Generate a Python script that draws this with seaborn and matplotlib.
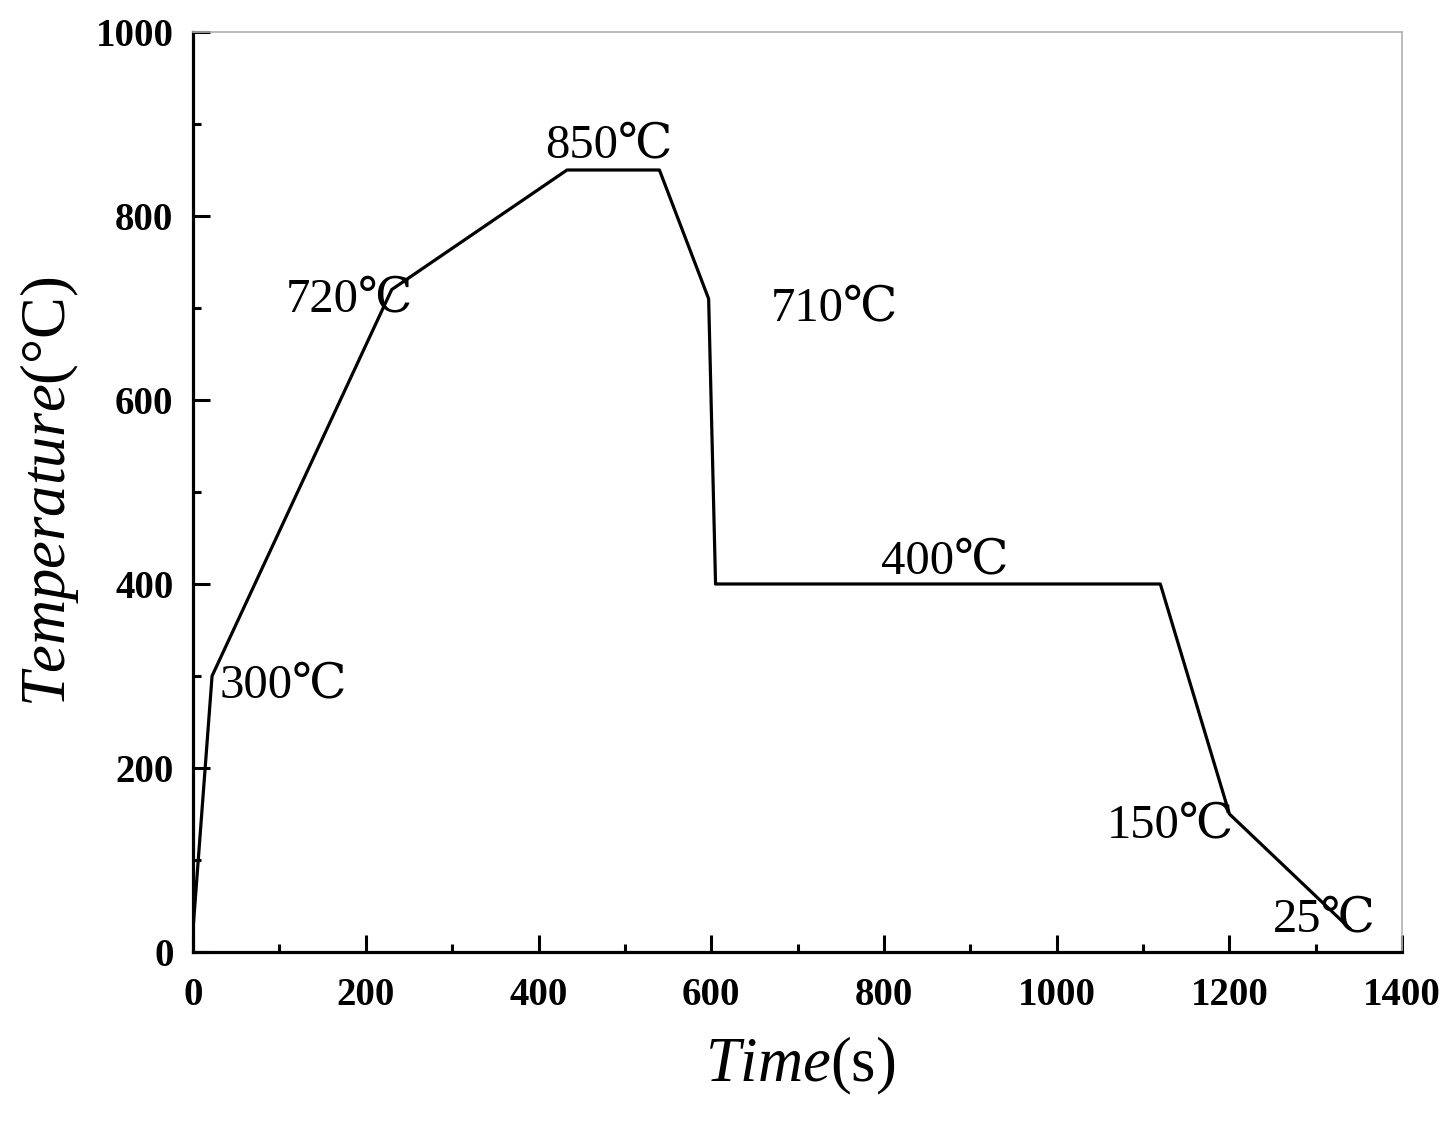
#heat_treatment_curve.py
"""
Temperature-time schedule of the heat treatment, drawn with seaborn as a line plot.
"""
import matplotlib
matplotlib.use('Agg')
import matplotlib.pyplot as plt
from matplotlib.ticker import MultipleLocator
import pandas as pd
import seaborn as sns

#schedule
time_s = [0, 22, 230, 433, 540, 597, 605, 1120, 1200, 1340]
temp_c = [25, 300, 720, 850, 850, 710, 400, 400, 150, 25]

#text labels of the stages
label_text = ['300℃', '720℃', '850℃', '710℃', '400℃', '150℃', '25℃']
label_x = [105, 181, 481, 743, 870, 1132, 1310]
label_y = [290, 709, 877, 700, 425, 138, 35]

df = pd.DataFrame({'time': time_s, 'temp': temp_c})

sns.set_style('ticks')
plt.rcParams['font.family'] = ['Liberation Serif', 'DejaVu Serif', 'Noto Sans CJK SC']
plt.rcParams['mathtext.fontset'] = 'custom'
plt.rcParams['mathtext.it'] = 'Liberation Serif:italic'
plt.rcParams['mathtext.rm'] = 'Liberation Serif'
#seaborn greys the text, the original is plain black
plt.rcParams['text.color'] = 'black'
plt.rcParams['axes.labelcolor'] = 'black'
plt.rcParams['xtick.color'] = 'black'
plt.rcParams['ytick.color'] = 'black'

fig = plt.figure(figsize=(14.56, 11.23), dpi=100)
ax = fig.add_axes([0.1326, 0.1523, 0.8304, 0.8192])

sns.lineplot(data=df, x='time', y='temp', sort=False, estimator=None,
             color='black', linewidth=2.3, ax=ax)

ax.set_xlim(0, 1400)
ax.set_ylim(0, 1000)
ax.xaxis.set_major_locator(MultipleLocator(200))
ax.xaxis.set_minor_locator(MultipleLocator(100))
ax.yaxis.set_major_locator(MultipleLocator(200))
ax.yaxis.set_minor_locator(MultipleLocator(100))

#left and bottom axes thick black, top and right thin grey
for side in ['left', 'bottom']:
    ax.spines[side].set_linewidth(2.3)
    ax.spines[side].set_color('black')
for side in ['top', 'right']:
    ax.spines[side].set_linewidth(1.2)
    ax.spines[side].set_color('#b0b0b0')

ax.tick_params(which='major', direction='in', length=12, width=2.2, color='black',
               labelsize=28, labelcolor='black', top=False, right=False)
ax.tick_params(axis='x', which='major', pad=18)
ax.tick_params(axis='y', which='major', pad=14)
ax.tick_params(which='minor', direction='in', length=6, width=2.2, color='black',
               top=False, right=False)
for lab in ax.get_xticklabels() + ax.get_yticklabels():
    lab.set_fontweight('bold')

ax.set_xlabel(r'$\mathit{Time}$(s)', fontsize=45)
ax.set_ylabel(r'$\mathit{Temperature}$(°C)', fontsize=45)
ax.xaxis.set_label_coords(0.502, -0.09)
ax.yaxis.set_label_coords(-0.093, 0.5)

for txt, lx, ly in zip(label_text, label_x, label_y):
    ax.text(lx, ly, txt, fontsize=35, ha='center', va='center', color='black')

plt.savefig('out.png', dpi=100)
